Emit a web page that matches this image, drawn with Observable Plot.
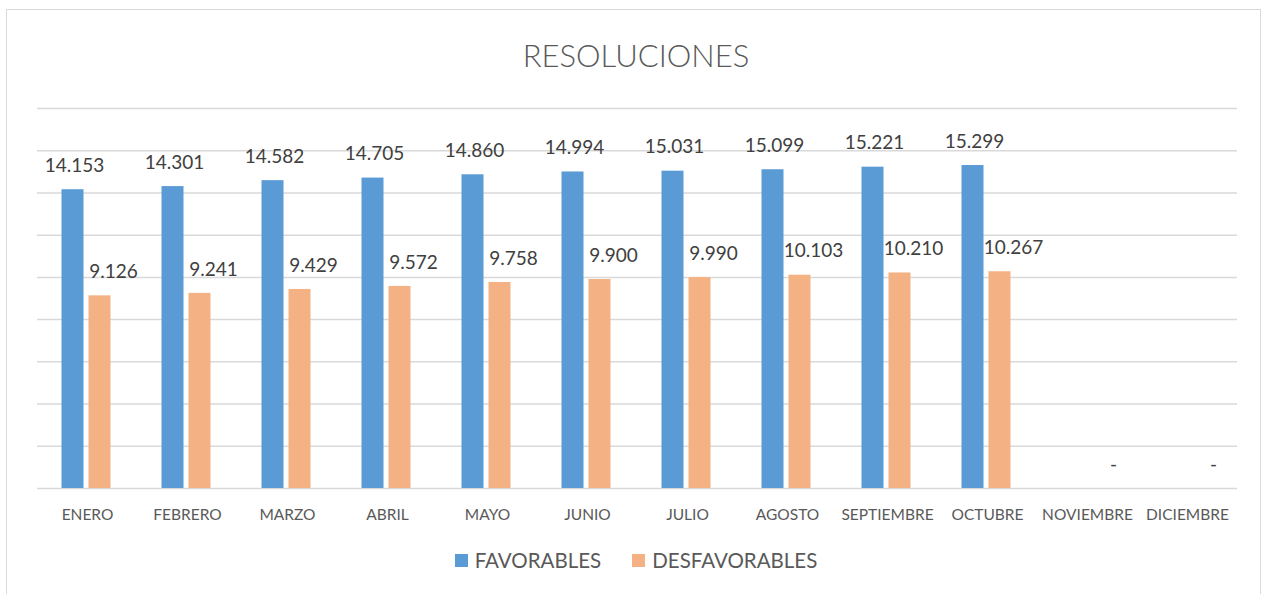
<!DOCTYPE html>
<html>
<head>
<meta charset="utf-8">
<script src="https://cdn.jsdelivr.net/npm/d3@7"></script>
<script src="https://cdn.jsdelivr.net/npm/@observablehq/plot@0.6"></script>
<style>
  html, body { margin: 0; padding: 0; background: #fff; }
  body { width: 1266px; height: 594px; position: relative; overflow: hidden; font-family: Lato, "Open Sans", sans-serif; }
  #frame { position: absolute; left: 6px; top: 9px; width: 1255px; height: 620px; border: 1px solid #d9d9d9; box-sizing: border-box; }
  #title { position: absolute; left: 0; top: 35px; width: 1272px; text-align: center; font-size: 31px; font-weight: 300; line-height: 40px; color: #595959; }
  #chart { position: absolute; left: 0; top: 90px; }
  #legend { position: absolute; left: 0; top: 548px; width: 1272px; display: flex; justify-content: center; align-items: center; gap: 0; font-size: 20.5px; color: #595959; }
  .item { display: flex; align-items: center; }
  .sw { width: 13px; height: 13px; margin-right: 7px; }
</style>
</head>
<body>
<div id="frame"></div>
<div id="title">RESOLUCIONES</div>
<div id="chart"></div>
<div id="legend"></div>
<script>
const months = ["ENERO","FEBRERO","MARZO","ABRIL","MAYO","JUNIO","JULIO","AGOSTO","SEPTIEMBRE","OCTUBRE","NOVIEMBRE","DICIEMBRE"];
const series = ["FAVORABLES","DESFAVORABLES"];
const colors = ["#5b9bd5","#f4b183"];
const favorables = [14153,14301,14582,14705,14860,14994,15031,15099,15221,15299];
const desfavorables = [9126,9241,9429,9572,9758,9900,9990,10103,10210,10267,0,0];
const yTicks = [0,2000,4000,6000,8000,10000,12000,14000,16000,18000];

const rows = [];
months.forEach((m, i) => {
  if (favorables[i] != null) rows.push({month: m, serie: series[0], value: favorables[i]});
  if (desfavorables[i] != null) rows.push({month: m, serie: series[1], value: desfavorables[i]});
});
const fmt = v => v === 0 ? "-" : d3.format(",")(v).replace(/,/g, ".");

const chart = Plot.plot({
  width: 1266,
  height: 438,
  marginTop: 18,
  marginBottom: 40,
  marginLeft: 36,
  marginRight: 28,
  style: {fontFamily: "Lato, 'Open Sans', sans-serif", fontSize: "15.5px", color: "#595959", background: "transparent"},
  fx: {domain: months, padding: 0, axis: "bottom", label: null, tickSize: 0, tickPadding: 20},
  x: {domain: series, axis: null, paddingInner: 0.2, paddingOuter: 0.9},
  y: {domain: [0, 18000], axis: null},
  color: {domain: series, range: colors},
  marks: [
    Plot.ruleY(yTicks, {stroke: "#d9d9d9", strokeWidth: 1.5}),
    Plot.barY(rows.filter(d => d.value > 0), {fx: "month", x: "serie", y: "value", fill: "serie", dx: -1.5}),
    Plot.text(rows.filter(d => d.serie === series[0]), {fx: "month", x: "serie", y: "value", text: d => fmt(d.value), dy: -24, fill: "#404040", fontSize: 19}),
    Plot.text(rows.filter(d => d.serie === series[1]), {fx: "month", x: "serie", y: "value", text: d => fmt(d.value), dy: -24, dx: 12, fill: "#404040", fontSize: 19})
  ]
});
document.getElementById("chart").appendChild(chart);

const legend = document.getElementById("legend");
series.forEach((s, i) => {
  const it = document.createElement("div");
  it.className = "item";
  it.style.marginRight = i === 0 ? "31px" : "0";
  it.innerHTML = `<span class="sw" style="background:${colors[i]}"></span><span>${s}</span>`;
  legend.appendChild(it);
});
</script>
</body>
</html>
